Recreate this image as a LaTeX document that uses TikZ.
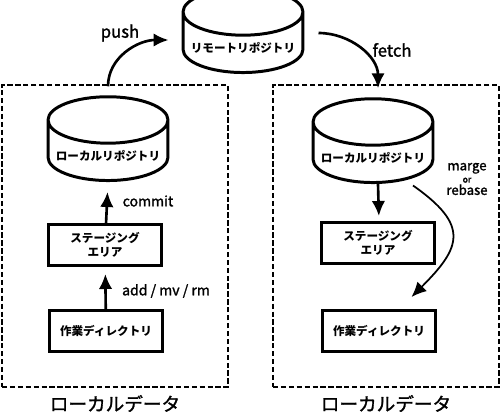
\documentclass[tikz,border=0pt]{standalone}
\usepackage{fontspec}
\setmainfont{Noto Sans CJK JP}
\newfontfamily\labelfont{Noto Sans CJK JP}[FakeBold=1.5]
\usetikzlibrary{arrows.meta,positioning,shapes.geometric}

\begin{document}
\begin{tikzpicture}[x=0.02cm,y=-0.02cm,
  repo/.style={draw,line width=1.7pt,cylinder,shape border rotate=90,aspect=0.4,minimum width=2.4cm,minimum height=1.46cm,font=\fontsize{6.6}{8}\selectfont\bfseries},
  area/.style={draw,line width=1.7pt,minimum width=2.27cm,minimum height=0.82cm,align=center,font=\fontsize{6.6}{8}\selectfont\bfseries},
  data/.style={draw,dash pattern=on 3pt off 1.5pt,line width=1pt,minimum width=4.52cm,minimum height=6.04cm},
  arr/.style={-{Latex[length=3mm,width=2.7mm]},line width=1.5pt},
  lbl/.style={font=\labelfont\fontsize{8}{9}\selectfont}]
\useasboundingbox (0,0) rectangle (500,412);
\node[repo] (remote) at (243,48) {リモートリポジトリ};
\node[data] (local1) at (115,236) {};
\node[data] (local2) at (386,236) {};
\node[font=\labelfont\fontsize{10.6}{12}\selectfont,below=0.2mm of local1] (name1) {ローカルデータ};
\node[font=\labelfont\fontsize{10.6}{12}\selectfont,below=0.2mm of local2] (name2) {ローカルデータ};
% left side
\node[repo] (repo1) at (108,156) {ローカルリポジトリ};
\node[area] (stage1) at (105,245) {ステージング\\エリア};
\node[area] (work1) at (106,331) {作業ディレクトリ};
\draw[arr,shorten >=2mm] (stage1) -- (repo1.south);
\draw[arr,shorten >=1.4mm] (work1) -- (stage1);
\node[lbl] (commit) at (148,201) {commit};
\node[lbl] (add) at (166,291) {add / mv / rm};
% right side
\node[repo] (repo2) at (373,158) {ローカルリポジトリ};
\node[area] (stage2) at (378,243) {ステージング\\エリア};
\node[area] (work2) at (379,331) {作業ディレクトリ};
\draw[arr,shorten >=1mm] ([xshift=1mm]repo2.south) -- ([xshift=0.2mm]stage2.north);
\draw[arr,line width=1pt] ([xshift=8mm,yshift=-0.3mm]repo2.south) to[out=-35,in=45,looseness=1.6] ([xshift=6.5mm,yshift=2.4mm]work2.north);
\node[lbl,font=\labelfont\fontsize{7.5}{9}\selectfont,align=center] (marge) at (467,179) {marge\\[-2pt]{\fontsize{5}{6}\selectfont or}\\[-2pt]rebase};
% push / fetch
\draw[arr] ([yshift=1.8mm]repo1.north) to[out=90,in=180] ([xshift=-2.6mm,yshift=1.6mm]remote.west);
\draw[arr] ([xshift=2.8mm,yshift=3mm]remote.east) to[out=0,in=90] ([xshift=1mm,yshift=1.8mm]repo2.north);
\node[lbl,font=\labelfont\fontsize{9.5}{11}\selectfont] (push) at (120,33) {push};
\node[lbl,font=\labelfont\fontsize{9.5}{11}\selectfont] (fetch) at (392,50) {fetch};
\end{tikzpicture}
\end{document}
